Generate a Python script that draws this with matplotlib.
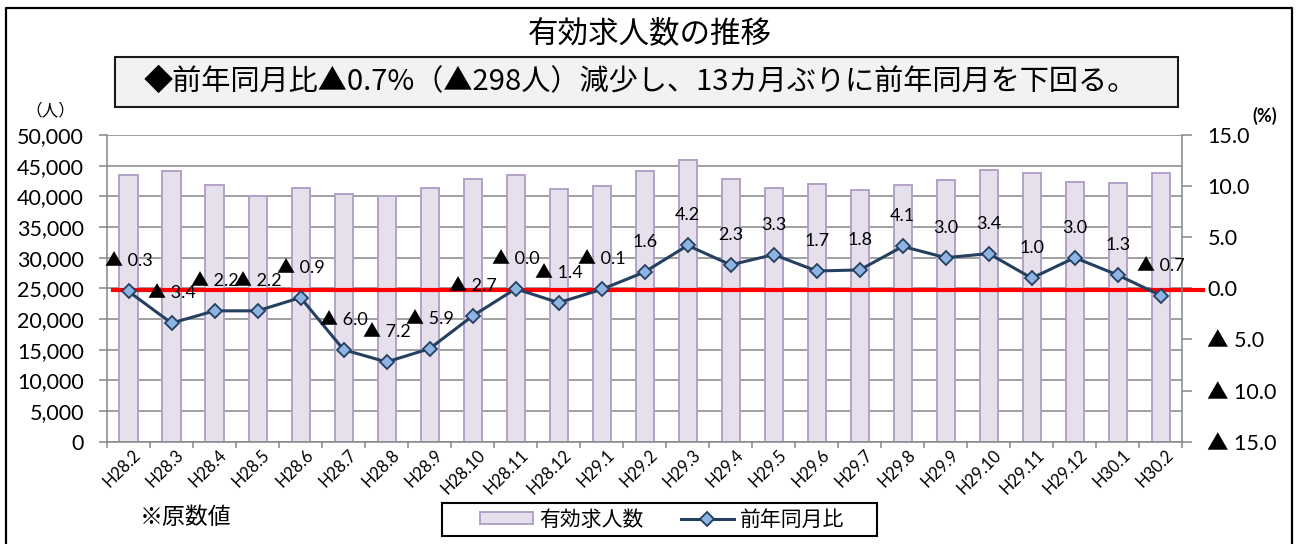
import matplotlib
matplotlib.use('Agg')
import matplotlib.pyplot as plt
from matplotlib.lines import Line2D
from matplotlib.patches import Rectangle
import matplotlib.transforms as mtransforms
import numpy as np

# ---------------- data ----------------
months = ['H28.2', 'H28.3', 'H28.4', 'H28.5', 'H28.6', 'H28.7', 'H28.8', 'H28.9',
          'H28.10', 'H28.11', 'H28.12', 'H29.1', 'H29.2', 'H29.3', 'H29.4', 'H29.5',
          'H29.6', 'H29.7', 'H29.8', 'H29.9', 'H29.10', 'H29.11', 'H29.12', 'H30.1', 'H30.2']
job_offers = [43400, 44200, 41900, 40000, 41300, 40400, 40000, 41400,
              42800, 43400, 41200, 41700, 44200, 46000, 42900, 41400,
              42000, 41100, 41800, 42600, 44300, 43800, 42400, 42200, 43800]
yoy_change = [-0.3, -3.4, -2.2, -2.2, -0.9, -6.0, -7.2, -5.9,
              -2.7, -0.04, -1.4, -0.1, 1.6, 4.2, 2.3, 3.3,
              1.7, 1.8, 4.1, 3.0, 3.4, 1.0, 3.0, 1.3, -0.7]
left_ticks = [0, 5000, 10000, 15000, 20000, 25000, 30000, 35000, 40000, 45000, 50000]
right_ticks = [-15, -10, -5, 0, 5, 10, 15]

title = '有効求人数の推移'
subtitle = '◆前年同月比▲0.7%（▲298人）減少し、13カ月ぶりに前年同月を下回る。'
note = '※原数値'
bar_label = '有効求人数'
line_label = '前年同月比'

JP = ['Noto Sans CJK JP', 'DejaVu Sans']
NUM = ['Lato', 'Noto Sans CJK JP', 'DejaVu Sans']

W, H = 1300, 544
fig = plt.figure(figsize=(W / 100, H / 100), dpi=100)


def fx(px):
    return px / W


def fy(py):
    return 1 - py / H


def fmt_pct(v):
    if v < 0:
        return '▲ {:.1f}'.format(abs(v))
    return '{:.1f}'.format(v)


GRID = '#868686'
ax_l, ax_r, ax_t, ax_b = 107, 1182.3, 135, 441.7
ax = fig.add_axes([fx(ax_l), fy(ax_b), fx(ax_r - ax_l), (ax_b - ax_t) / H])
x = np.arange(len(months))
bars = ax.bar(x, job_offers, width=0.42, color='#E6E0EC', edgecolor='#B3A2C7',
              linewidth=1.4, zorder=2, label=bar_label)
ax.set_xlim(-0.5, len(months) - 0.5)
ax.set_ylim(0, 50000)
ax.set_yticks(left_ticks)
ax.set_yticklabels(['{:,}'.format(v) for v in left_ticks], family=NUM, fontsize=15.5)
ax.yaxis.grid(True, color=GRID, linewidth=1.1, zorder=0)
ax.set_axisbelow(True)
for s in ['top', 'right']:
    ax.spines[s].set_visible(False)
for s in ['left', 'bottom']:
    ax.spines[s].set_color(GRID)
    ax.spines[s].set_linewidth(1.1)
ax.tick_params(axis='y', length=5.5, width=1.1, color=GRID, pad=11, labelcolor='black')
ax.set_xticks(x)
ax.set_xticklabels(months, family=NUM, fontsize=12, rotation=45, ha='right',
                   va='center', rotation_mode='anchor')
ax.set_xticks(np.arange(-0.5, len(months)), minor=True)
ax.tick_params(axis='x', which='major', length=0, pad=8)
ax.tick_params(axis='x', which='minor', length=4, width=1.1, color=GRID, direction='out')
offset = mtransforms.ScaledTranslation(10 / 100, 0, fig.dpi_scale_trans)
for lab in ax.get_xticklabels():
    lab.set_transform(lab.get_transform() + offset)

ax2 = ax.twinx()
ax2.set_ylim(-15, 15)
ax2.set_yticks(right_ticks)
ax2.set_yticklabels([fmt_pct(v) for v in right_ticks], family=NUM, fontsize=15.5)
for s in ['top', 'left', 'bottom']:
    ax2.spines[s].set_visible(False)
ax2.spines['right'].set_color(GRID)
ax2.spines['right'].set_linewidth(1.1)
ax2.tick_params(axis='y', length=7, width=1.1, color=GRID, pad=11)

# red zero line
ax2.plot([-0.36, 24.98], [-0.2, -0.2], color='#FF0000', lw=3, clip_on=False, zorder=2)
line, = ax2.plot(x, yoy_change, color='#243F60', lw=2.2, marker='D', ms=6.8,
                 mfc='#8EB4E3', mec='#243F60', mew=1.3, zorder=3, label=line_label)
for xi, v in zip(x, yoy_change):
    ax2.annotate(fmt_pct(v), (xi, v), xytext=(0, 21.6), textcoords='offset points',
                 ha='center', va='center', fontsize=13, family=NUM, zorder=4)

# titles / texts
fig.text(0.5, fy(34), title, fontsize=22, family=JP, ha='center', va='center')
fig.patches.append(Rectangle((fx(115), fy(107)), fx(1178 - 115), 50 / H,
                             transform=fig.transFigure, facecolor='#F2F2F2',
                             edgecolor='#1a1a1a', linewidth=1.5))
fig.text(fx(144), fy(82), subtitle, fontsize=21, family=JP, ha='left', va='center')
fig.text(fx(50), fy(111), '（人）', fontsize=12, family=JP, ha='center', va='center')
fig.text(fx(1265), fy(116), '(%)', fontsize=13, family=NUM, ha='center', va='center',
         weight='bold')
fig.text(fx(140), fy(517), note, fontsize=16.5, family=JP, ha='left', va='center')

# outer border
fig.lines.append(Line2D([fx(6), fx(6), fx(1292), fx(1292)], [fy(560), fy(8), fy(8), fy(560)],
                        transform=fig.transFigure, color='black', lw=1.6))

# legend (frame drawn separately)
fig.patches.append(Rectangle((fx(442), fy(536)), fx(877 - 442), 33 / H,
                             transform=fig.transFigure, facecolor='white',
                             edgecolor='black', linewidth=1.5, zorder=5))
leg = fig.legend(handles=[bars, line], loc='center', bbox_to_anchor=(fx(662), fy(519.5)),
                 ncol=2, frameon=False, prop={'family': JP, 'size': 15},
                 handlelength=2.55, handletextpad=0.3, columnspacing=1.8,
                 borderpad=0.2, numpoints=1, handleheight=0.55)
leg.set_zorder(6)

fig.savefig('out.png', dpi=100)
